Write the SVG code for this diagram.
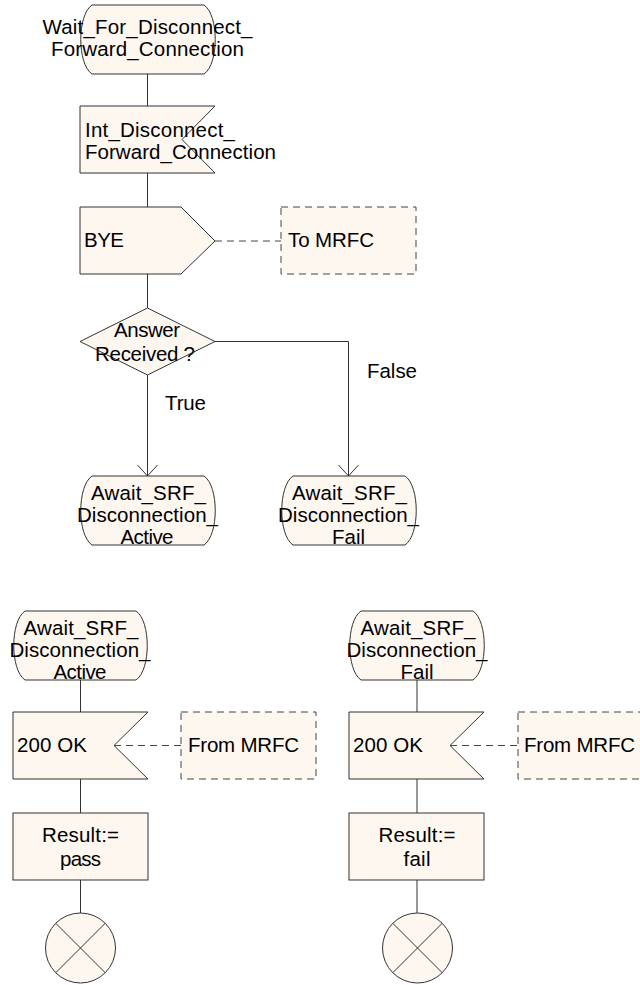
<svg xmlns="http://www.w3.org/2000/svg" width="640" height="985" viewBox="0 0 640 985">
  <style>
    .sh { fill: #fdf7f0; stroke: #333; stroke-width: 1; }
    .dsh { fill: #fdf7f0; stroke: #444; stroke-width: 1; stroke-dasharray: 7 5; }
    .ln { fill: none; stroke: #333; stroke-width: 1; }
    .dl { fill: none; stroke: #444; stroke-width: 1; stroke-dasharray: 7 5; }
    text { font-family: "Liberation Sans", Arial, sans-serif; font-size: 20.5px; fill: #000; }
    .m { text-anchor: middle; }
  </style>
  <defs>
    <marker id="arr" viewBox="-1 -11 13 22" refX="11" refY="0" markerWidth="13" markerHeight="22" markerUnits="userSpaceOnUse" orient="auto">
      <path d="M0,-10 L11,0 L0,10" fill="none" stroke="#333" stroke-width="1"/>
    </marker>
  </defs>

  <g id="connectors">
    <line class="ln" x1="147.5" y1="74" x2="147.5" y2="106"/>
    <line class="ln" x1="147.5" y1="173" x2="147.5" y2="207"/>
    <line class="dl" x1="215" y1="241" x2="281" y2="241"/>
    <line class="ln" x1="147.5" y1="274" x2="147.5" y2="308"/>
    <line class="ln" x1="147.5" y1="375" x2="147.5" y2="476" marker-end="url(#arr)"/>
    <polyline class="ln" points="215,341.5 348.5,341.5 348.5,476" marker-end="url(#arr)"/>
    <line class="ln" x1="80.5" y1="680" x2="80.5" y2="712"/>
    <line class="dl" x1="114" y1="745.5" x2="181" y2="745.5"/>
    <line class="ln" x1="80.5" y1="779" x2="80.5" y2="813"/>
    <line class="ln" x1="80.5" y1="880" x2="80.5" y2="913"/>
    <line class="ln" x1="417" y1="680" x2="417" y2="712"/>
    <line class="dl" x1="450" y1="745.5" x2="518" y2="745.5"/>
    <line class="ln" x1="417" y1="779" x2="417" y2="813"/>
    <line class="ln" x1="417" y1="880" x2="417" y2="913"/>
  </g>

  <g id="state_wait">
    <path class="sh" d="M92,5 H204 C219,15 219,64 204,74 H92 C77,64 77,15 92,5 Z"/>
    <text class="m" x="147.5" y="34" textLength="210">Wait_For_Disconnect_</text>
    <text class="m" x="147.5" y="56" textLength="193">Forward_Connection</text>
  </g>

  <g id="input_int">
    <path class="sh" d="M80,106 H215 L182,139.5 L215,173 H80 Z"/>
    <text x="85" y="137" textLength="150">Int_Disconnect_</text>
    <text x="85" y="159" textLength="191">Forward_Connection</text>
  </g>

  <g id="output_bye">
    <path class="sh" d="M80,207 H181 L215,241 L181,274 H80 Z"/>
    <text x="84" y="247" textLength="40">BYE</text>
  </g>

  <g id="to_mrfc">
    <rect class="dsh" x="281" y="207" width="135" height="67"/>
    <text x="288" y="247" textLength="86">To MRFC</text>
  </g>

  <g id="decision">
    <path class="sh" d="M147.5,308 L215,341.5 L147.5,375 L80,341.5 Z"/>
    <text class="m" x="147" y="337" textLength="66">Answer</text>
    <text class="m" x="145" y="361" textLength="100">Received ?</text>
  </g>

  <g id="label_true">
    <text x="165" y="410" textLength="41">True</text>
  </g>
  <g id="label_false">
    <text x="367" y="378" textLength="50">False</text>
  </g>

  <g id="state_active_1">
    <path class="sh" d="M92,476 H204 C219,486 219,535 204,545 H92 C77,535 77,486 92,476 Z"/>
    <text class="m" x="148.5" y="500" textLength="115">Await_SRF_</text>
    <text class="m" x="147.5" y="522" textLength="141">Disconnection_</text>
    <text class="m" x="147" y="544" textLength="53">Active</text>
  </g>

  <g id="state_fail_1">
    <path class="sh" d="M293,476 H405 C420,486 420,535 405,545 H293 C278,535 278,486 293,476 Z"/>
    <text class="m" x="349.5" y="500" textLength="115">Await_SRF_</text>
    <text class="m" x="348.5" y="522" textLength="141">Disconnection_</text>
    <text class="m" x="348.5" y="544" textLength="33">Fail</text>
  </g>

  <g id="state_active_2">
    <path class="sh" d="M25,611 H136 C151,621 151,670 136,680 H25 C10,670 10,621 25,611 Z"/>
    <text class="m" x="81" y="635" textLength="115">Await_SRF_</text>
    <text class="m" x="80" y="657" textLength="141">Disconnection_</text>
    <text class="m" x="80" y="679" textLength="53">Active</text>
  </g>

  <g id="input_200ok_1">
    <path class="sh" d="M13,712 H148 L114,745.5 L148,779 H13 Z"/>
    <text x="17" y="752" textLength="70">200 OK</text>
  </g>

  <g id="from_mrfc_1">
    <rect class="dsh" x="181" y="712" width="135" height="67"/>
    <text x="188" y="752" textLength="111">From MRFC</text>
  </g>

  <g id="task_pass">
    <rect class="sh" x="13" y="813" width="135" height="67"/>
    <text class="m" x="80.5" y="842" textLength="77">Result:=</text>
    <text class="m" x="80.5" y="866" textLength="41">pass</text>
  </g>

  <g id="stop_1">
    <circle class="sh" cx="80.5" cy="948" r="35"/>
    <line class="ln" x1="55.8" y1="923.3" x2="105.2" y2="972.7"/>
    <line class="ln" x1="105.2" y1="923.3" x2="55.8" y2="972.7"/>
  </g>

  <g id="state_fail_2">
    <path class="sh" d="M361,611 H473 C488,621 488,670 473,680 H361 C346,670 346,621 361,611 Z"/>
    <text class="m" x="418" y="635" textLength="115">Await_SRF_</text>
    <text class="m" x="417" y="657" textLength="141">Disconnection_</text>
    <text class="m" x="417" y="679" textLength="33">Fail</text>
  </g>

  <g id="input_200ok_2">
    <path class="sh" d="M349,712 H484 L450,745.5 L484,779 H349 Z"/>
    <text x="353" y="752" textLength="70">200 OK</text>
  </g>

  <g id="from_mrfc_2">
    <rect class="dsh" x="518" y="712" width="135" height="67"/>
    <text x="524" y="752" textLength="111">From MRFC</text>
  </g>

  <g id="task_fail">
    <rect class="sh" x="349" y="813" width="135" height="67"/>
    <text class="m" x="417" y="842" textLength="77">Result:=</text>
    <text class="m" x="417" y="866" textLength="27">fail</text>
  </g>

  <g id="stop_2">
    <circle class="sh" cx="417.5" cy="948" r="35"/>
    <line class="ln" x1="392.8" y1="923.3" x2="442.2" y2="972.7"/>
    <line class="ln" x1="442.2" y1="923.3" x2="392.8" y2="972.7"/>
  </g>
</svg>
